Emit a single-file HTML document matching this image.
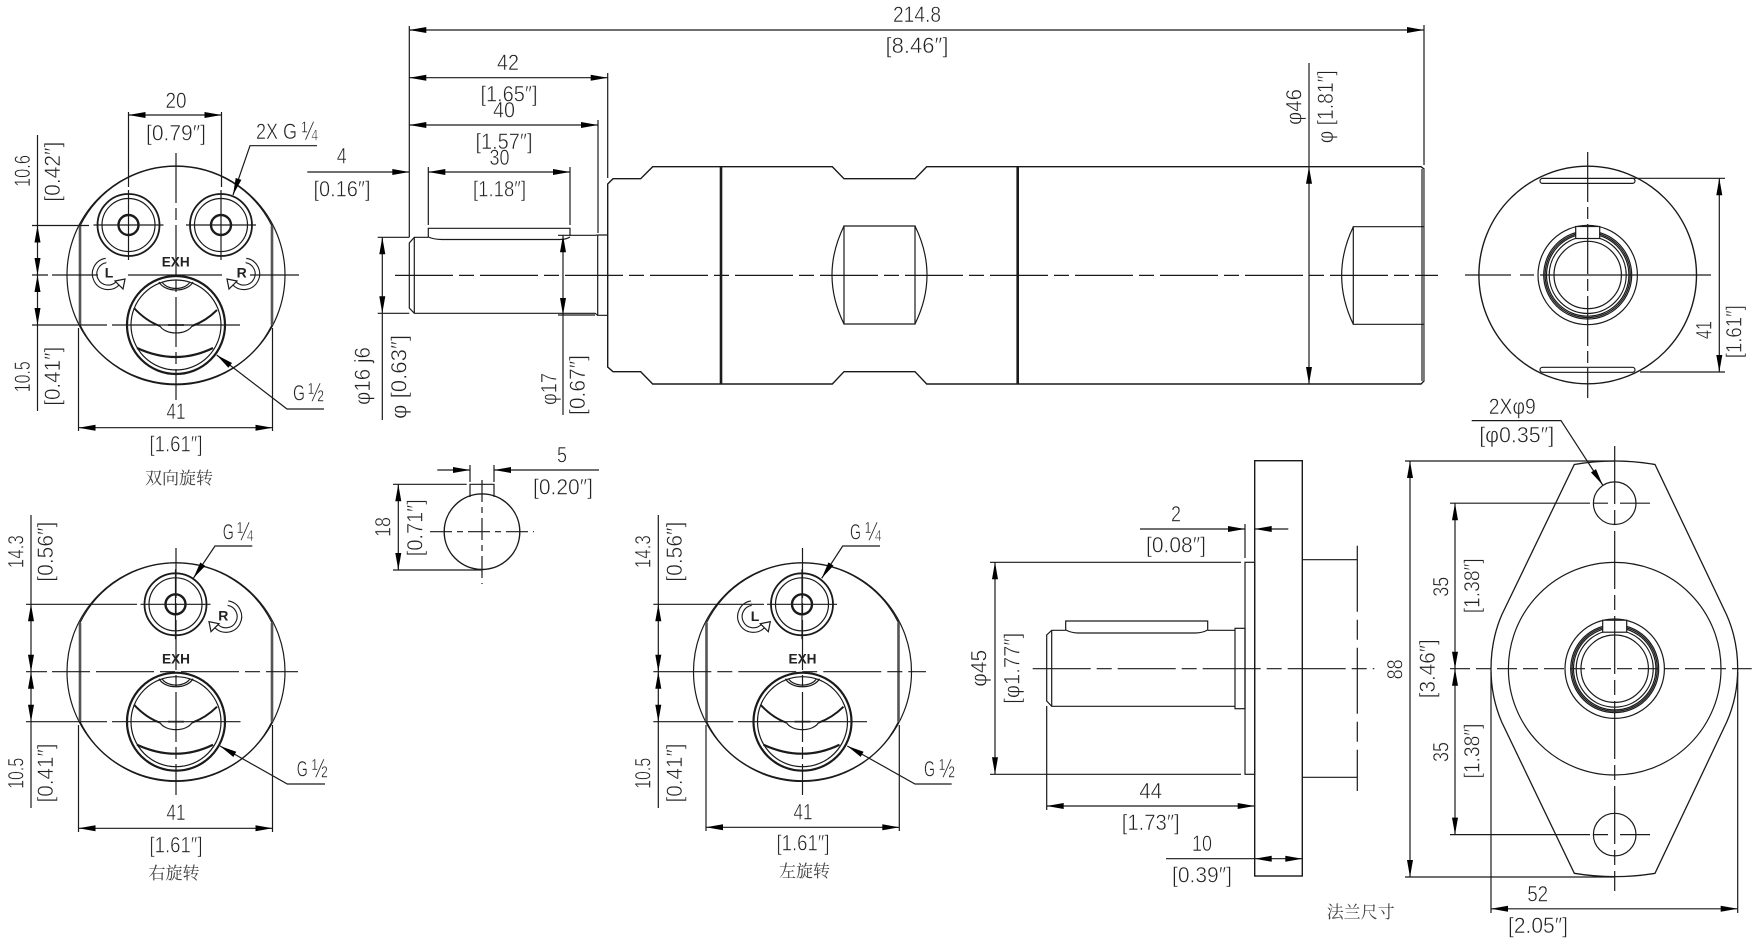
<!DOCTYPE html>
<html><head><meta charset="utf-8"><title>Drawing</title>
<style>
html,body{margin:0;padding:0;background:#fff;width:1758px;height:940px;overflow:hidden}
svg{display:block}
.l line,.l path,.l circle,.l rect,.l polyline{stroke:#1a1a1a;stroke-width:1.2;fill:none}
.c{stroke-dasharray:58 6 15 6}
.v{stroke-dasharray:50 5 12 5}
.a{marker-start:url(#m);marker-end:url(#m)}
.e{marker-end:url(#m)}
text{font-family:"Liberation Sans","DejaVu Sans",sans-serif;font-size:22px;fill:#222;stroke:#fff;stroke-width:.5;text-anchor:middle}
text.st{text-anchor:start}
text.f{text-anchor:start;font-size:27px}
text.x{font-weight:bold;font-size:14px;fill:#222;stroke:none}
text.cn{font-family:"Liberation Serif","Noto Serif CJK SC",serif;font-size:17px;fill:#444;stroke:none}
</style></head><body>
<svg xmlns="http://www.w3.org/2000/svg" width="1758" height="940" viewBox="0 0 1758 940">
<defs>
<marker id="m" markerUnits="userSpaceOnUse" markerWidth="18" markerHeight="7" refX="17" refY="3" orient="auto-start-reverse" overflow="visible"><path d="M0 0L17 3L0 6z" fill="#000" stroke="none"/></marker>
<g id="body" class="l">
<circle r="109"/>
<path d="M-96,-49A107,107 0 0 1 96,-49"/>
<path d="M-96,50A107,107 0 0 0 96,50"/>
<path d="M-96,-49V50M96,-49V50" style="stroke:#555;stroke-width:2.6"/>
<circle cy="50" r="49" style="stroke-width:2.2"/>
<circle cy="50" r="45"/>
<path d="M-42,33Q-30,46 -16,51M16,51Q30,46 41,35" style="stroke-width:2"/>
<path d="M-16,51A17,10.5 0 0 0 16,51"/>
<path d="M-8,50H8" style="stroke:#666;stroke-width:2"/>
<path d="M-17,7A18,12 0 0 0 17,7"/>
<path d="M-14,7A15,10 0 0 0 14,7"/>
<path d="M-39,73Q0,91 37,73" style="stroke-width:2.2"/>
</g>
<g id="port" class="l">
<circle r="31" style="stroke-width:1.8"/>
<circle r="26.5"/>
<circle r="10" style="stroke-width:2.4"/>
<path d="M-35,0H35M0,-35V35"/>
</g>
<g id="rot" class="l">
<path d="M-2,-13.5A13.5,13.5 0 1 0 10,9" style="stroke-width:5.6"/>
<path d="M-2,-13.5A13.5,13.5 0 1 0 10,9" style="stroke:#fff;stroke-width:3.4"/>
<path d="M7,7L17,5L15,15Z" style="fill:#fff"/>
</g>
<g id="ring" class="l">
<circle r="49.7"/><circle r="44"/><circle r="42.6"/><circle r="41.2"/><circle r="38.5"/><circle r="33.7"/>
<rect x="-12" y="-48.5" width="24" height="12" style="fill:#fff"/>
</g>
</defs>
<rect width="1758" height="940" fill="#fff"/>
<g class="l">
<!-- VIEW 1 -->
<use href="#body" x="176" y="275"/>
<use href="#port" x="128.5" y="225"/>
<use href="#port" x="221" y="225"/>
<use href="#rot" x="108" y="274"/>
<use href="#rot" transform="translate(244,274) scale(-1,1)"/>
<line x1="176" y1="153" x2="176" y2="400" class="v"/>
<line x1="32" y1="225.5" x2="89" y2="225.5"/>
<path d="M32 275H48M52 275H98M128 275H222M250 275H299" />
<path d="M32 325H107M112 325H240" />
<line x1="128.5" y1="112" x2="128.5" y2="187"/>
<line x1="221.5" y1="112" x2="221.5" y2="187"/>
<line x1="128.5" y1="115" x2="221.5" y2="115" class="a"/>
<line x1="37.5" y1="135" x2="37.5" y2="225.5"/>
<line x1="37.5" y1="225.5" x2="37.5" y2="275" class="a"/>
<line x1="37.5" y1="275" x2="37.5" y2="325" class="a"/>
<line x1="37.5" y1="325" x2="37.5" y2="411"/>
<line x1="78.5" y1="328" x2="78.5" y2="431"/>
<line x1="272.5" y1="328" x2="272.5" y2="431"/>
<line x1="78.5" y1="427.7" x2="272.5" y2="427.7" class="a"/>
<path d="M317 145.7H250L233 195" class="e"/>
<path d="M324 409H287L216.7 355" class="e"/>
<!-- VIEW 2 -->
<use href="#body" x="176" y="671.7"/>
<use href="#port" x="175.5" y="604.3"/>
<use href="#rot" x="226" y="616.7" transform="translate(452,0) scale(-1,1)"/>
<line x1="176" y1="548" x2="176" y2="795" class="v"/>
<path d="M26 604.3H137"/>
<path d="M26 671.7H47M52 671.7H90M96 671.7H298" class="c"/>
<path d="M26 721.7H107M112 721.7H240.5"/>
<line x1="31" y1="515" x2="31" y2="604.3"/>
<line x1="31" y1="604.3" x2="31" y2="671.7" class="a"/>
<line x1="31" y1="671.7" x2="31" y2="721.7" class="a"/>
<line x1="31" y1="721.7" x2="31" y2="808"/>
<line x1="78.5" y1="725" x2="78.5" y2="832"/>
<line x1="272.5" y1="725" x2="272.5" y2="832"/>
<line x1="78.5" y1="828.3" x2="272.5" y2="828.3" class="a"/>
<path d="M252.3 546H215L193.3 578.3" class="e"/>
<path d="M325 784H287.3L220 746" class="e"/>
<!-- VIEW 3 -->
<use href="#body" x="802.5" y="671.7"/>
<use href="#port" x="802" y="604.3"/>
<use href="#rot" x="753.3" y="616.7"/>
<line x1="802.5" y1="548" x2="802.5" y2="795" class="v"/>
<path d="M653.3 604.3H764"/>
<path d="M653.3 671.7H926" class="c"/>
<path d="M653.3 721.7H733.3M738 721.7H867"/>
<line x1="658.3" y1="515" x2="658.3" y2="604.3"/>
<line x1="658.3" y1="604.3" x2="658.3" y2="671.7" class="a"/>
<line x1="658.3" y1="671.7" x2="658.3" y2="721.7" class="a"/>
<line x1="658.3" y1="721.7" x2="658.3" y2="808"/>
<line x1="706" y1="725" x2="706" y2="831"/>
<line x1="899.3" y1="725" x2="899.3" y2="831"/>
<line x1="706" y1="827.3" x2="899.3" y2="827.3" class="a"/>
<path d="M880 546H842.7L821.7 578.3" class="e"/>
<path d="M951.7 784H915L847.3 746" class="e"/>
<!-- MAIN SHAFT -->
<path d="M607.7 184L613 178.7H640.7L652.7 166.7H832.3L844 178.7H915L926.7 166.7H1421L1424 169V381L1421 384H926.7L915 371.7H844L832.3 384H652.7L640.7 371.7H613L607.7 367Z" style="stroke-width:1.4"/>
<rect x="1421" y="169" width="3.4" height="212" style="fill:#777;stroke:none"/>
<path d="M721 166.7V384M1017.7 166.7V384" style="stroke-width:2.6"/>
<path d="M844 226H915V324H844Z"/>
<path d="M844 226Q820 275 844 324M915 226Q939 275 915 324"/>
<path d="M1424 226.7H1353.3V324.3H1424M1353.3 226.7Q1330 275.5 1353.3 324.3"/>
<path d="M428.3 237.3H414.3L409.3 243V308L414.3 313.3H595L597.7 315.3"/>
<path d="M414.3 237.3V313.3"/>
<path d="M428.3 237.3V228.3H570V236"/>
<path d="M428.3 237Q434 239.5 442 239.5H560Q566 239.5 570 237"/>
<path d="M570 235.3H595L597.7 235"/>
<path d="M597.7 235H607.7M597.7 235V315.3H607.7"/>
<line x1="395" y1="275.4" x2="1438" y2="275.4" class="c"/>
<line x1="409.3" y1="26" x2="409.3" y2="237.3"/>
<line x1="1424" y1="25" x2="1424" y2="165"/>
<line x1="409.3" y1="30" x2="1424" y2="30" class="a"/>
<line x1="607.7" y1="73" x2="607.7" y2="178"/>
<line x1="409.3" y1="77.7" x2="607.7" y2="77.7" class="a"/>
<line x1="598" y1="120" x2="598" y2="233"/>
<line x1="409.3" y1="125" x2="598" y2="125" class="a"/>
<line x1="428.3" y1="167" x2="428.3" y2="225"/>
<line x1="570" y1="167" x2="570" y2="225"/>
<line x1="428.3" y1="172" x2="570" y2="172" class="a"/>
<line x1="307.3" y1="172" x2="409.3" y2="172" class="e"/>
<line x1="382.3" y1="237.3" x2="382.3" y2="313.3" class="a"/>
<line x1="382.3" y1="313.3" x2="382.3" y2="420"/>
<path d="M377.7 237.3H409.3M377.7 313.3H409.3"/>
<line x1="563" y1="235.3" x2="563" y2="315" class="a"/>
<line x1="563" y1="315" x2="563" y2="415"/>
<path d="M558 235.3H570M558 315H595"/>
<line x1="1309" y1="166.7" x2="1309" y2="384" class="a"/>
<line x1="1309" y1="63" x2="1309" y2="166.7"/>
<!-- RIGHT END VIEW -->
<circle cx="1587.7" cy="275" r="108.8" style="stroke-width:1.4"/>
<rect x="1540" y="178.4" width="95" height="5" rx="2.5" style="fill:#fff"/>
<rect x="1540" y="367.3" width="95" height="5" rx="2.5" style="fill:#fff"/>
<use href="#ring" x="1587.7" y="275"/>
<path d="M1465 275H1511M1520 275H1534M1540 275H1711" />
<line x1="1587.7" y1="152" x2="1587.7" y2="398" class="v"/>
<path d="M1630 178.3H1725M1640 372H1725"/>
<line x1="1719.3" y1="178.3" x2="1719.3" y2="372" class="a"/>
<!-- KEY SECTION -->
<circle cx="482" cy="531.7" r="37.8" style="stroke-width:1.4"/>
<path d="M470 497V484.3H494V497"/>
<line x1="430" y1="531.7" x2="534" y2="531.7" class="v" style="stroke-dasharray:22 5 6 5"/>
<line x1="482" y1="480" x2="482" y2="584" class="v" style="stroke-dasharray:22 5 6 5"/>
<line x1="437.3" y1="470" x2="470" y2="470" class="e"/>
<line x1="599" y1="470" x2="494" y2="470" class="e"/>
<path d="M470 465V482M494 465V482"/>
<path d="M393 484.3H466.7M393 570H482"/>
<line x1="398.3" y1="484.3" x2="398.3" y2="570" class="a"/>
<!-- FLANGE SIDE -->
<rect x="1254.7" y="460.7" width="47.6" height="415.3" style="stroke-width:1.4"/>
<rect x="1245" y="562.3" width="9.7" height="212"/>
<path d="M1065.7 630.3H1051.7L1046.7 635V701L1051.7 706.3H1235M1051.7 630.3V706.3"/>
<path d="M1207.7 630.3H1235"/>
<rect x="1235" y="628.3" width="10" height="80.4"/>
<path d="M1065.7 630V621H1207.7V630"/>
<path d="M1065.7 630Q1072 633 1078 633H1195Q1202 633 1207.7 630"/>
<path d="M1302.3 559.7H1357.3M1302.3 777.3H1357.3"/>
<line x1="1357.3" y1="545.7" x2="1357.3" y2="791" class="v" style="stroke-dasharray:66 8 20 8"/>
<line x1="1032.7" y1="668.7" x2="1374.3" y2="668.7" class="c"/>
<line x1="1140" y1="529" x2="1245" y2="529" class="e"/>
<line x1="1288.3" y1="529" x2="1254.7" y2="529" class="e"/>
<line x1="1245" y1="524" x2="1245" y2="558"/>
<path d="M990 562.3H1241M990 774.3H1241"/>
<line x1="995" y1="562.3" x2="995" y2="774.3" class="a"/>
<line x1="1046.7" y1="706" x2="1046.7" y2="810"/>
<line x1="1046.7" y1="806" x2="1254.7" y2="806" class="a"/>
<line x1="1166" y1="858.7" x2="1254.7" y2="858.7"/>
<line x1="1254.7" y1="858.7" x2="1302.3" y2="858.7" class="a"/>
<!-- FLANGE FRONT -->
<path d="M1574.3 464.5Q1614.7 457.5 1655 464.5L1726.7 615Q1737.7 640 1737.7 668.7Q1737.7 697 1726.7 722L1655 873.3Q1614.7 880 1574.3 873.3L1501.7 722Q1491 697 1491 668.7Q1491 640 1501.7 615Z" style="stroke-width:1.3"/>
<circle cx="1614.7" cy="668.7" r="106.3"/>
<use href="#ring" x="1614.7" y="668.7"/>
<circle cx="1614.7" cy="503.2" r="21.3"/>
<circle cx="1614.7" cy="834.6" r="21.3"/>
<line x1="1614.7" y1="446" x2="1614.7" y2="891" class="c"/>
<line x1="1450" y1="668.7" x2="1751.7" y2="668.7" class="c" style="stroke-dasharray:20 6 15 6"/>
<path d="M1450 503.2H1590M1594 503.2H1608M1620 503.2H1650"/>
<path d="M1450 834.6H1590M1594 834.6H1608M1620 834.6H1650"/>
<path d="M1405 461H1614M1405 877H1614"/>
<line x1="1410" y1="461" x2="1410" y2="877" class="a"/>
<line x1="1455" y1="503.2" x2="1455" y2="668.7" class="a"/>
<line x1="1455" y1="668.7" x2="1455" y2="834.6" class="a"/>
<path d="M1491 672V913M1737.7 672V913"/>
<line x1="1491" y1="908.8" x2="1737.7" y2="908.8" class="a"/>
<path d="M1471.7 420.6H1561L1602.7 485" class="e"/>
</g>

<!-- TEXT -->
<text x="176" y="108" textLength="21" lengthAdjust="spacingAndGlyphs">20</text>
<text x="176" y="140.7" textLength="60" lengthAdjust="spacingAndGlyphs">[0.79″]</text>
<text class="st" x="256" y="139" textLength="41" lengthAdjust="spacingAndGlyphs">2X G</text>
<text class="f" x="301.5" y="140" textLength="16" lengthAdjust="spacingAndGlyphs">¼</text>
<text transform="translate(30,171) rotate(-90)" textLength="32" lengthAdjust="spacingAndGlyphs">10.6</text>
<text transform="translate(60,171.7) rotate(-90)" textLength="60" lengthAdjust="spacingAndGlyphs">[0.42″]</text>
<text transform="translate(30,376.7) rotate(-90)" textLength="31" lengthAdjust="spacingAndGlyphs">10.5</text>
<text transform="translate(60,376.3) rotate(-90)" textLength="59" lengthAdjust="spacingAndGlyphs">[0.41″]</text>
<text x="176" y="419" textLength="19" lengthAdjust="spacingAndGlyphs">41</text>
<text x="176" y="451.7" textLength="53" lengthAdjust="spacingAndGlyphs">[1.61″]</text>
<text class="st" x="293" y="400.7" textLength="12" lengthAdjust="spacingAndGlyphs">G</text>
<text class="f" x="308" y="401.7" textLength="16" lengthAdjust="spacingAndGlyphs">½</text>
<text class="cn" x="179" y="484">双向旋转</text>
<text class="x" x="175.7" y="266.7" textLength="28" lengthAdjust="spacingAndGlyphs">EXH</text>
<text class="x" x="109" y="277.7">L</text>
<text class="x" x="241.7" y="277.7">R</text>

<text transform="translate(23.5,551.7) rotate(-90)" textLength="33" lengthAdjust="spacingAndGlyphs">14.3</text>
<text transform="translate(53,551.7) rotate(-90)" textLength="60" lengthAdjust="spacingAndGlyphs">[0.56″]</text>
<text transform="translate(23.5,773.3) rotate(-90)" textLength="31" lengthAdjust="spacingAndGlyphs">10.5</text>
<text transform="translate(53,773) rotate(-90)" textLength="59" lengthAdjust="spacingAndGlyphs">[0.41″]</text>
<text class="st" x="222.7" y="539.3" textLength="11" lengthAdjust="spacingAndGlyphs">G</text>
<text class="f" x="237" y="540.3" textLength="16" lengthAdjust="spacingAndGlyphs">¼</text>
<text class="st" x="296.7" y="776.7" textLength="11" lengthAdjust="spacingAndGlyphs">G</text>
<text class="f" x="311.7" y="777.7" textLength="16" lengthAdjust="spacingAndGlyphs">½</text>
<text x="176" y="820" textLength="19" lengthAdjust="spacingAndGlyphs">41</text>
<text x="176" y="852.7" textLength="53" lengthAdjust="spacingAndGlyphs">[1.61″]</text>
<text class="cn" x="174" y="879">右旋转</text>
<text class="x" x="176" y="663.3" textLength="28" lengthAdjust="spacingAndGlyphs">EXH</text>
<text class="x" x="223.3" y="620.7">R</text>

<text transform="translate(650.7,551.7) rotate(-90)" textLength="33" lengthAdjust="spacingAndGlyphs">14.3</text>
<text transform="translate(682,551.7) rotate(-90)" textLength="60" lengthAdjust="spacingAndGlyphs">[0.56″]</text>
<text transform="translate(650.7,773.3) rotate(-90)" textLength="31" lengthAdjust="spacingAndGlyphs">10.5</text>
<text transform="translate(682,773) rotate(-90)" textLength="59" lengthAdjust="spacingAndGlyphs">[0.41″]</text>
<text class="st" x="850" y="539.3" textLength="11" lengthAdjust="spacingAndGlyphs">G</text>
<text class="f" x="865" y="540.3" textLength="16" lengthAdjust="spacingAndGlyphs">¼</text>
<text class="st" x="924" y="776.7" textLength="11" lengthAdjust="spacingAndGlyphs">G</text>
<text class="f" x="939" y="777.7" textLength="16" lengthAdjust="spacingAndGlyphs">½</text>
<text x="803" y="819.3" textLength="19" lengthAdjust="spacingAndGlyphs">41</text>
<text x="803" y="850.7" textLength="53" lengthAdjust="spacingAndGlyphs">[1.61″]</text>
<text class="cn" x="804.5" y="877">左旋转</text>
<text class="x" x="802.5" y="663.3" textLength="28" lengthAdjust="spacingAndGlyphs">EXH</text>
<text class="x" x="755" y="621">L</text>

<text x="917" y="22" textLength="48" lengthAdjust="spacingAndGlyphs">214.8</text>
<text x="917" y="53" textLength="63" lengthAdjust="spacingAndGlyphs">[8.46″]</text>
<text x="508" y="70" textLength="22" lengthAdjust="spacingAndGlyphs">42</text>
<text x="509" y="101.7" textLength="57" lengthAdjust="spacingAndGlyphs">[1.65″]</text>
<text x="504" y="117.3" textLength="22" lengthAdjust="spacingAndGlyphs">40</text>
<text x="504" y="149" textLength="57" lengthAdjust="spacingAndGlyphs">[1.57″]</text>
<text x="499.5" y="165" textLength="20" lengthAdjust="spacingAndGlyphs">30</text>
<text x="499.5" y="196.7" textLength="53" lengthAdjust="spacingAndGlyphs">[1.18″]</text>
<text x="341.7" y="163.3" textLength="10" lengthAdjust="spacingAndGlyphs">4</text>
<text x="342" y="196.7" textLength="57" lengthAdjust="spacingAndGlyphs">[0.16″]</text>
<text transform="translate(370,376) rotate(-90)" textLength="58" lengthAdjust="spacingAndGlyphs">φ16 j6</text>
<text transform="translate(406.7,377) rotate(-90)" textLength="84" lengthAdjust="spacingAndGlyphs">φ [0.63″]</text>
<text transform="translate(556.7,389) rotate(-90)" textLength="32" lengthAdjust="spacingAndGlyphs">φ17</text>
<text transform="translate(585,385) rotate(-90)" textLength="60" lengthAdjust="spacingAndGlyphs">[0.67″]</text>
<text transform="translate(1301.7,107) rotate(-90)" textLength="36" lengthAdjust="spacingAndGlyphs">φ46</text>
<text transform="translate(1333,106.7) rotate(-90)" textLength="73" lengthAdjust="spacingAndGlyphs">φ [1.81″]</text>
<text transform="translate(1711.7,330) rotate(-90)" textLength="18" lengthAdjust="spacingAndGlyphs">41</text>
<text transform="translate(1741.7,331.7) rotate(-90)" textLength="53" lengthAdjust="spacingAndGlyphs">[1.61″]</text>

<text x="562" y="462.3" textLength="10" lengthAdjust="spacingAndGlyphs">5</text>
<text x="563" y="494.3" textLength="60" lengthAdjust="spacingAndGlyphs">[0.20″]</text>
<text transform="translate(390.7,527) rotate(-90)" textLength="20" lengthAdjust="spacingAndGlyphs">18</text>
<text transform="translate(422.7,527.7) rotate(-90)" textLength="57" lengthAdjust="spacingAndGlyphs">[0.71″]</text>

<text x="1176" y="521.7" textLength="10" lengthAdjust="spacingAndGlyphs">2</text>
<text x="1176" y="552.7" textLength="60" lengthAdjust="spacingAndGlyphs">[0.08″]</text>
<text transform="translate(986.7,668.3) rotate(-90)" textLength="37" lengthAdjust="spacingAndGlyphs">φ45</text>
<text transform="translate(1019.3,668.3) rotate(-90)" textLength="71" lengthAdjust="spacingAndGlyphs">[φ1.77″]</text>
<text x="1150.7" y="798.3" textLength="23" lengthAdjust="spacingAndGlyphs">44</text>
<text x="1150.7" y="830" textLength="58" lengthAdjust="spacingAndGlyphs">[1.73″]</text>
<text x="1202" y="851" textLength="20" lengthAdjust="spacingAndGlyphs">10</text>
<text x="1202" y="882.7" textLength="60" lengthAdjust="spacingAndGlyphs">[0.39″]</text>
<text class="cn st" x="1326.7" y="918">法兰尺寸</text>

<text x="1512.3" y="414" textLength="47" lengthAdjust="spacingAndGlyphs">2Xφ9</text>
<text x="1516.7" y="442.7" textLength="75" lengthAdjust="spacingAndGlyphs">[φ0.35″]</text>
<text transform="translate(1402.3,669.4) rotate(-90)" textLength="20" lengthAdjust="spacingAndGlyphs">88</text>
<text transform="translate(1435,668.7) rotate(-90)" textLength="59" lengthAdjust="spacingAndGlyphs">[3.46″]</text>
<text transform="translate(1448.3,586.8) rotate(-90)" textLength="20" lengthAdjust="spacingAndGlyphs">35</text>
<text transform="translate(1479.3,585.8) rotate(-90)" textLength="55" lengthAdjust="spacingAndGlyphs">[1.38″]</text>
<text transform="translate(1448.3,752) rotate(-90)" textLength="20" lengthAdjust="spacingAndGlyphs">35</text>
<text transform="translate(1479.3,751) rotate(-90)" textLength="55" lengthAdjust="spacingAndGlyphs">[1.38″]</text>
<text x="1537.7" y="901.4" textLength="21" lengthAdjust="spacingAndGlyphs">52</text>
<text x="1538" y="933" textLength="60" lengthAdjust="spacingAndGlyphs">[2.05″]</text>
</svg>
</body></html>
